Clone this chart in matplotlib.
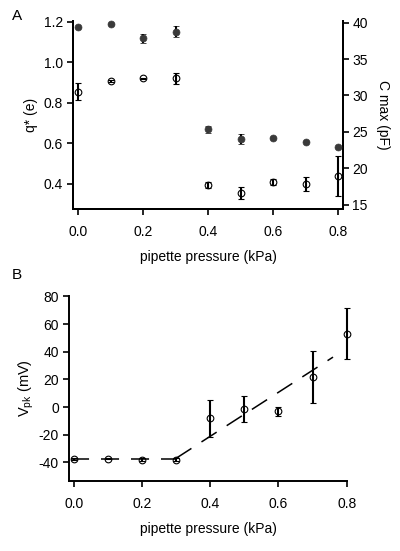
import matplotlib
matplotlib.use("Agg")
import matplotlib.pyplot as plt

plt.rcParams['font.family'] = ['Liberation Sans', 'DejaVu Sans']
plt.rcParams['font.size'] = 10
plt.rcParams['axes.unicode_minus'] = False
plt.rcParams['mathtext.fontset'] = 'custom'
plt.rcParams['mathtext.rm'] = 'Liberation Sans'
plt.rcParams['mathtext.it'] = 'Liberation Sans'

# ---- data ----
pressure = [0.0, 0.1, 0.2, 0.3, 0.4, 0.5, 0.6, 0.7, 0.8]
q_star = [0.854, 0.906, 0.920, 0.920, 0.394, 0.353, 0.407, 0.397, 0.440]
q_err = [0.041, 0.005, 0.004, 0.029, 0.016, 0.029, 0.014, 0.035, 0.099]
c_max = [39.37, 39.82, 37.86, 38.76, 25.36, 24.03, 24.17, 23.65, 22.88]
c_err = [0.1, 0.1, 0.6, 0.77, 0.5, 0.69, 0.1, 0.1, 0.1]
v_pk = [-37.6, -37.3, -38.1, -38.1, -8.1, -1.6, -3.1, 21.6, 53.0]
v_err = [0.5, 0.5, 1.2, 1.2, 13.3, 9.5, 3.4, 19.0, 18.5]
fit_flat_x = [-0.01, 0.30]
fit_flat_y = [-37.3, -37.3]
fit_rise_x = [0.30, 0.76]
fit_rise_y = [-37.0, 36.1]

xticks = [0.0, 0.2, 0.4, 0.6, 0.8]
q_ticks = [0.4, 0.6, 0.8, 1.0, 1.2]
c_ticks = [15, 20, 25, 30, 35, 40]
v_ticks = [-40, -20, 0, 20, 40, 60, 80]

W, H = 400, 551
fig = plt.figure(figsize=(W / 100, H / 100), dpi=100)

def frac(x0, x1, ytop, ybot):
    return [x0 / W, 1 - ybot / H, (x1 - x0) / W, (ybot - ytop) / H]

def noclip(container):
    for art in container.get_children():
        art.set_clip_on(False)

spine_lw = 1.4
fs = 10
tick_kw = dict(direction='out', length=4.3, width=1.2, labelsize=fs, pad=3.0)
eb_kw = dict(ecolor='black', elinewidth=1.5, capsize=2.3, capthick=1.5, linestyle='none')
dark = '#3a3a3a'
open_kw = dict(marker='o', markersize=4.8, markerfacecolor='none',
               markeredgecolor='black', markeredgewidth=0.8)

# ---- Panel A ----
axA = fig.add_axes(frac(73, 343, 21, 209))
axA.spines['top'].set_visible(False)
for s in ['left', 'bottom', 'right']:
    axA.spines[s].set_linewidth(spine_lw)
axA.set_xlim(-0.0163, 0.8145)
axA.set_ylim(0.275, 1.2035)
axA.set_xticks(xticks)
axA.set_xticklabels([f"{v:.1f}" for v in xticks])
axA.set_yticks(q_ticks)
axA.set_yticklabels([f"{v:.1f}" for v in q_ticks])
axA.tick_params(axis='y', **tick_kw)
axA.tick_params(axis='x', direction='out', length=4.3, width=1.2, labelsize=fs, pad=7)
noclip(axA.errorbar(pressure, q_star, yerr=q_err, zorder=3, **open_kw, **eb_kw))
axA.set_ylabel('q* (e)', labelpad=4, fontsize=fs)
axA.set_xlabel('pipette pressure (kPa)', labelpad=8, fontsize=fs)

axA2 = axA.twinx()
axA2.spines['top'].set_visible(False)
for s in ['left', 'bottom', 'right']:
    axA2.spines[s].set_linewidth(spine_lw)
axA2.set_ylim(14.41, 40.23)
axA2.set_yticks(c_ticks)
axA2.tick_params(axis='y', direction='out', length=4.3, width=1.2, labelsize=fs, pad=2.5)
noclip(axA2.errorbar(pressure, c_max, yerr=c_err, marker='o', markersize=5,
                     markerfacecolor=dark, markeredgecolor=dark, markeredgewidth=0.5,
                     zorder=3, **eb_kw))
axA2.set_ylabel('C max (pF)', rotation=270, labelpad=16, fontsize=fs)

fig.text(12 / W, 1 - 16 / H, 'A', fontsize=11, va='center', ha='left')

# ---- Panel B ----
axB = fig.add_axes(frac(69, 347, 296, 481))
axB.spines['top'].set_visible(False)
axB.spines['right'].set_visible(False)
for s in ['left', 'bottom']:
    axB.spines[s].set_linewidth(spine_lw)
axB.set_xlim(-0.0147, 0.801)
axB.set_ylim(-53.5, 80.3)
axB.set_xticks(xticks)
axB.set_xticklabels([f"{v:.1f}" for v in xticks])
axB.set_yticks(v_ticks)
axB.tick_params(axis='y', **tick_kw)
axB.tick_params(axis='x', direction='out', length=4.3, width=1.2, labelsize=fs, pad=7)
lw_d = 1.1
axB.plot(fit_flat_x, fit_flat_y, color='black', lw=lw_d,
         linestyle=(0, (13 / lw_d, 8.6 / lw_d)), zorder=2)
axB.plot(fit_rise_x, fit_rise_y, color='black', lw=lw_d,
         linestyle=(0, (13 / lw_d, 8.6 / lw_d)), zorder=2)
noclip(axB.errorbar(pressure, v_pk, yerr=v_err, zorder=3, **open_kw, **eb_kw))
axB.set_ylabel('V$_{\\mathrm{pk}}$ (mV)', labelpad=2, fontsize=fs + 0.5)
axB.set_xlabel('pipette pressure (kPa)', labelpad=8, fontsize=fs)

fig.text(12 / W, 1 - 275 / H, 'B', fontsize=11, va='center', ha='left')

fig.savefig('out.png', dpi=100)
